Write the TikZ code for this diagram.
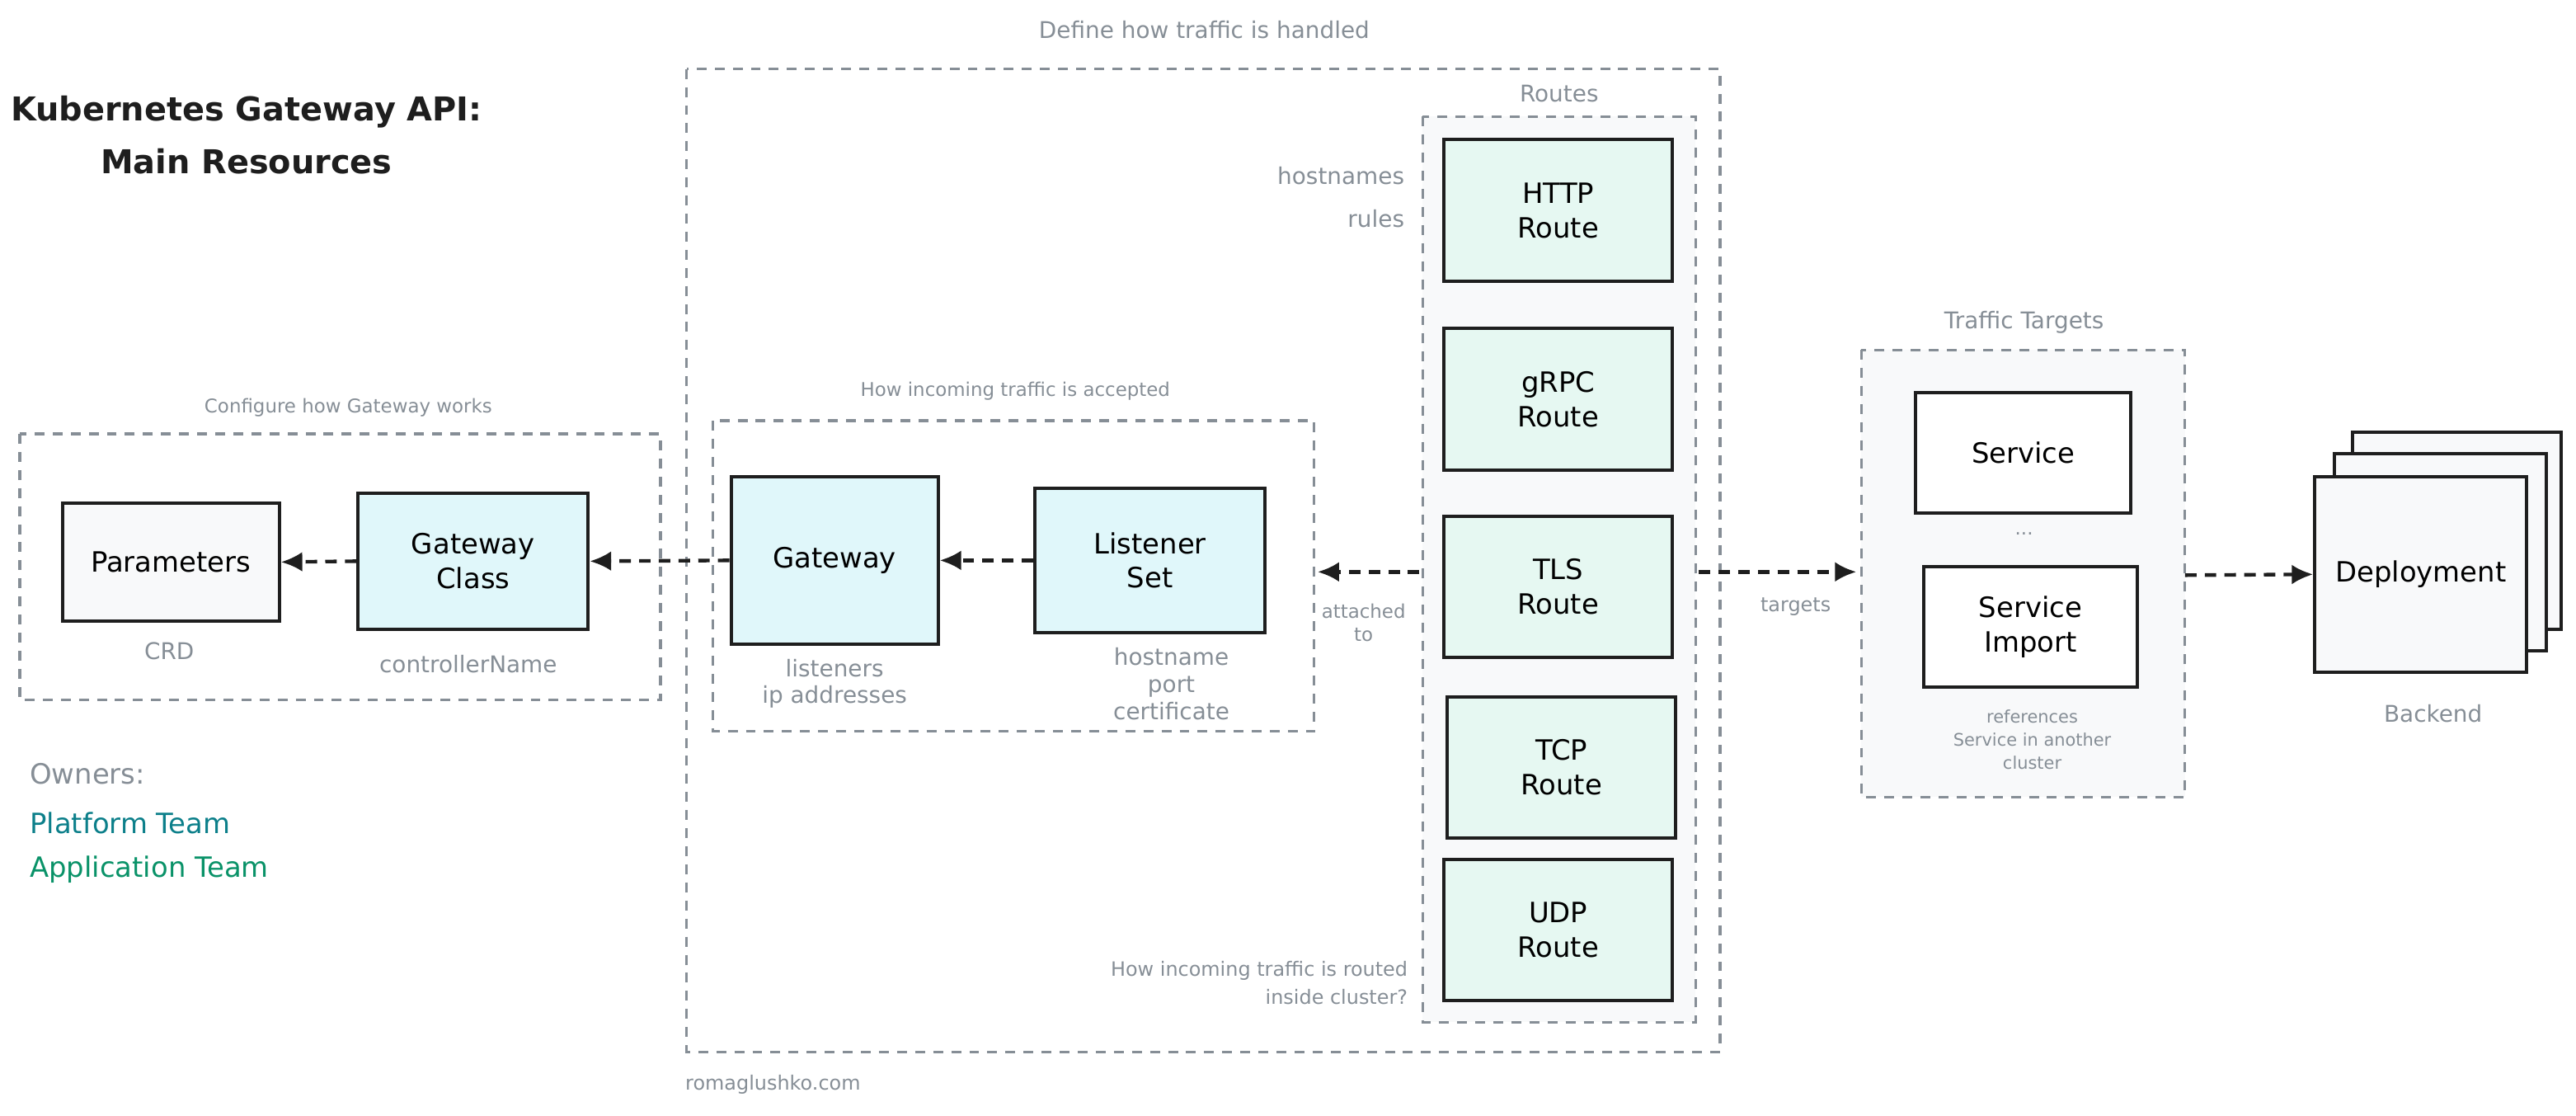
\documentclass[tikz,border=0pt]{standalone}
\usepackage{fontspec}
\setmainfont{DejaVu Sans}
\usetikzlibrary{arrows.meta}
\definecolor{ink}{HTML}{1E1E1E}
\definecolor{grayc}{HTML}{868E96}
\definecolor{paper}{HTML}{F8F9FA}
\definecolor{cyanf}{HTML}{E0F7FA}
\definecolor{mintf}{HTML}{E6F8F2}
\definecolor{teal}{HTML}{0C7F8A}
\definecolor{greenc}{HTML}{099268}
\begin{document}
\begin{tikzpicture}[x=1pt,y=-1pt,
  res/.style={draw=ink,line width=2pt,align=center,font=\fontsize{17}{21}\selectfont,inner sep=0pt},
  grp/.style={draw=grayc,line width=1.6pt,dash pattern=on 6pt off 5pt},
  lbl/.style={text=grayc,font=\fontsize{11.5}{14}\selectfont,align=center,inner sep=1pt},
  mlbl/.style={text=grayc,font=\fontsize{14}{16.5}\selectfont,align=center,inner sep=1pt},
  arr/.style={draw=ink,line width=2.2pt,dash pattern=on 7pt off 5pt,-{Latex[length=13pt,width=12pt]}}]
\useasboundingbox (0,0) rectangle (1568,679);
% groups
\draw[grp] (12,264) rectangle (402,426);
\node[lbl] (lg1) at (212,248) {Configure how Gateway works};
\draw[grp] (418,42) rectangle (1047,640);
\node[mlbl] (lg3) at (733,18) {Define how traffic is handled};
\draw[grp] (434,256) rectangle (800,445);
\node[lbl] (lg2) at (618,238) {How incoming traffic is accepted};
\draw[grp,fill=paper] (866,71) rectangle (1032,622);
\node[mlbl] (lgr) at (949,57) {Routes};
\draw[grp,fill=paper] (1133,213) rectangle (1330,485);
\node[mlbl] (lgt) at (1232,196) {Traffic Targets};
% title
\node[font=\fontsize{20}{32}\selectfont\bfseries,align=center,text=ink] (title) at (150,82) {Kubernetes Gateway API:\\Main Resources};
% left nodes
\node[res,fill=paper,minimum width=132pt,minimum height=72pt] (par) at (104,342) {Parameters};
\node[mlbl] (crd) at (103,396) {CRD};
\node[res,fill=cyanf,minimum width=140pt,minimum height=83pt] (gc) at (288,341.5) {Gateway\\Class};
\node[mlbl] (cn) at (285,404) {controllerName};
\node[res,fill=cyanf,minimum width=126pt,minimum height=102pt] (gw) at (508,341) {Gateway};
\node[mlbl] (gwl) at (508,416) {listeners\\ip addresses};
\node[res,fill=cyanf,minimum width=140pt,minimum height=88pt] (ls) at (700,341) {Listener\\Set};
\node[mlbl] (lsl) at (713,416) {hostname\\port\\certificate};
% routes
\node[res,fill=mintf,minimum width=139pt,minimum height=86pt] (http) at (948.5,128) {HTTP\\Route};
\node[res,fill=mintf,minimum width=139pt,minimum height=86pt] (grpc) at (948.5,243) {gRPC\\Route};
\node[res,fill=mintf,minimum width=139pt,minimum height=86pt] (tls) at (948.5,357) {TLS\\Route};
\node[res,fill=mintf,minimum width=139pt,minimum height=86pt] (tcp) at (950.5,467) {TCP\\Route};
\node[res,fill=mintf,minimum width=139pt,minimum height=86pt] (udp) at (948.5,566) {UDP\\Route};
\node[mlbl,anchor=east] (hn) at (856,107) {hostnames};
\node[mlbl,anchor=east] (rl) at (856,133) {rules};
\node[lbl,anchor=east,align=right,font=\fontsize{12}{17}\selectfont] (hr) at (858,598) {How incoming traffic is routed\\inside cluster?};
\node[lbl] (att) at (830,379) {attached\\to};
\node[lbl,font=\fontsize{12}{14}\selectfont] (tg) at (1093,369) {targets};
% targets
\node[res,fill=white,minimum width=131pt,minimum height=73pt] (svc) at (1231.5,275.5) {Service};
\node[lbl] (dots) at (1232,325) {...};
\node[res,fill=white,minimum width=130pt,minimum height=73pt] (si) at (1236,381.5) {Service\\Import};
\node[lbl,font=\fontsize{10.5}{14}\selectfont] (ref) at (1237,450) {references\\Service in another\\cluster};
% deployment
\draw[ink,line width=2pt,fill=paper] (1432,263) rectangle (1559,383);
\draw[ink,line width=2pt,fill=paper] (1421,276) rectangle (1550,396);
\node[res,fill=paper,minimum width=129pt,minimum height=119pt] (dep) at (1473.5,349.5) {Deployment};
\node[mlbl] (be) at (1481,434) {Backend};
% owners
\node[anchor=west,text=grayc,font=\fontsize{17}{20}\selectfont,inner sep=0pt] (ow) at (18,471) {Owners:};
\node[anchor=west,text=teal,font=\fontsize{17}{20}\selectfont,inner sep=0pt] (pt) at (18,501) {Platform Team};
\node[anchor=west,text=greenc,font=\fontsize{17}{20}\selectfont,inner sep=0pt] (at) at (18,529) {Application Team};
\node[lbl,anchor=west,font=\fontsize{12}{14}\selectfont] (rg) at (416,660) {romaglushko.com};
% arrows
\coordinate (rl1) at (864,348);
\coordinate (rl2) at (802,348);
\coordinate (rr1) at (1034,348);
\coordinate (rr2) at (1130,348);
\draw[arr] (gc.west) -- (par.east);
\draw[arr] (gw.west) -- (gc.east);
\draw[arr] (ls.west) -- (gw.east);
\draw[arr] (rl1) -- (rl2);
\draw[arr] (rr1) -- (rr2);
\draw[arr] (1330,350) -- (dep.west);
\end{tikzpicture}
\end{document}
